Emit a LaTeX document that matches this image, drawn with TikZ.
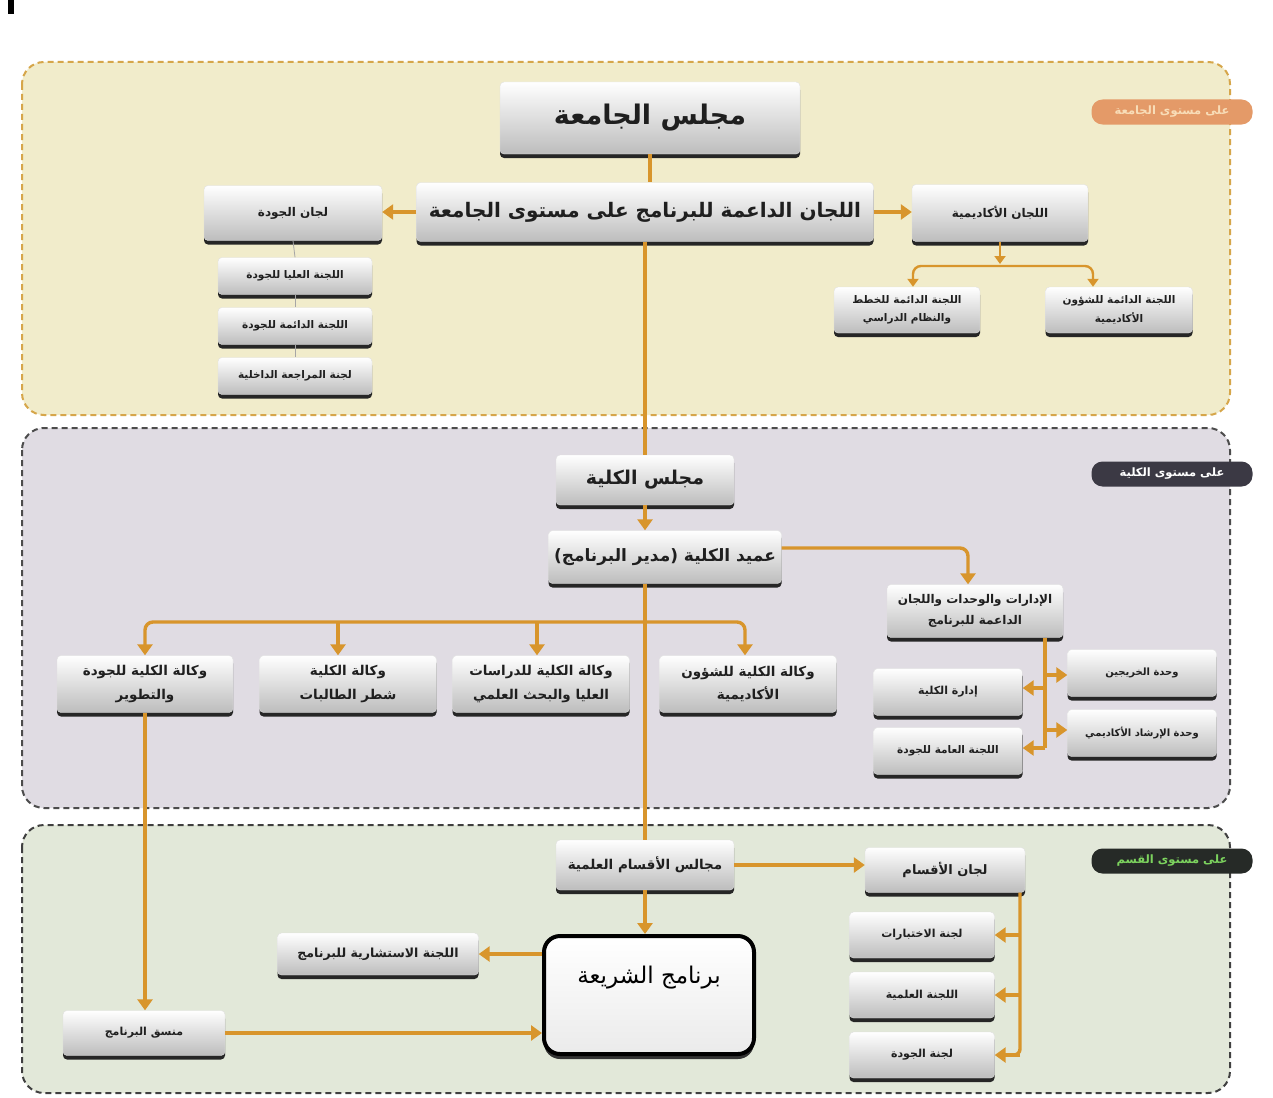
\documentclass[tikz,border=0pt]{standalone}
\usepackage{fontspec}
\usetikzlibrary{arrows.meta,shadows,calc}
\TeXXeTstate=1
\newfontfamily\arabicfont[Script=Arabic]{DejaVu Sans}
\newcommand{\R}[1]{\beginR #1\endR}
\newcommand{\fs}[1]{\fontsize{#1}{\fpeval{#1*1.75}}\selectfont}
\definecolor{orangeln}{HTML}{D8952C}
\definecolor{zoneA}{HTML}{F1ECCB}
\definecolor{zoneAline}{HTML}{D6A64A}
\definecolor{zoneB}{HTML}{E0DCE3}
\definecolor{zoneC}{HTML}{E2E8D9}
\definecolor{tagA}{HTML}{E49A68}
\definecolor{tagAtext}{HTML}{F8DDB8}
\definecolor{tagB}{HTML}{3B3944}
\definecolor{tagC}{HTML}{262A27}
\definecolor{tagCtext}{HTML}{7CD35E}
\tikzset{
  box/.style={rounded corners=4pt, top color=white, bottom color=black!26, draw=black!12,
    line width=0.4pt, align=center, text=black!88, inner sep=2pt,
    drop shadow={shadow xshift=0pt, shadow yshift=-4pt, opacity=1, fill=black!85}},
  fsz/.style={font=\arabicfont\bfseries\fs{#1}},
  ln/.style={draw=orangeln, line width=3.4pt},
  arr/.style={ln, -{Triangle[length=11pt,width=15pt]}},
  sarr/.style={draw=orangeln, line width=2.4pt, -{Triangle[length=8pt,width=11pt]}},
  thin/.style={draw=black!35, line width=0.8pt},
  zone/.style={rounded corners=22pt, line width=2pt, dash pattern=on 6pt off 4pt},
  tagbox/.style={rounded corners=11pt, minimum width=161pt, minimum height=25pt, inner sep=0pt, fsz=11.5},
}
\begin{document}
\begin{tikzpicture}[x=1pt,y=-1pt]
\useasboundingbox (0,0) rectangle (1273,1097);
\fill[white] (0,0) rectangle (1273,1097);
\fill[black] (8,0) rectangle (14,14);
% zones
\filldraw[zone, fill=zoneA, draw=zoneAline] (22,62) rectangle (1230,415);
\filldraw[zone, fill=zoneB, draw=black!70] (22,428) rectangle (1230,808);
\filldraw[zone, fill=zoneC, draw=black!75] (22,825) rectangle (1230,1093);
% tags
\node[tagbox, fill=tagA, text=tagAtext] (tag1) at (1172,112) {\R{على مستوى الجامعة}};
\node[tagbox, fill=tagB, text=white] (tag2) at (1172,474) {\R{على مستوى الكلية}};
\node[tagbox, fill=tagC, text=tagCtext] (tag3) at (1172,861) {\R{على مستوى القسم}};

% ---------- university level ----------
\node[box, fsz=27, minimum width=300pt, minimum height=72pt] (n1) at (650,118) {\R{مجلس الجامعة}};
\node[box, fsz=20, minimum width=457pt, minimum height=59pt] (n2) at (645,212) {\R{اللجان الداعمة للبرنامج على مستوى الجامعة}};
\node[box, fsz=12, minimum width=178pt, minimum height=55pt] (n3) at (293,213) {\R{لجان الجودة}};
\node[box, fsz=10.5, minimum width=154pt, minimum height=37pt] (n4) at (295,276) {\R{اللجنة العليا للجودة}};
\node[box, fsz=10.5, minimum width=154pt, minimum height=37pt] (n5) at (295,326) {\R{اللجنة الدائمة للجودة}};
\node[box, fsz=10.5, minimum width=154pt, minimum height=37pt] (n6) at (295,376) {\R{لجنة المراجعة الداخلية}};
\node[box, fsz=12, minimum width=176pt, minimum height=57pt] (n7) at (1000,213) {\R{اللجان الأكاديمية}};
\node[box, fsz=10.5, minimum width=146pt, minimum height=46pt] (n8) at (907,310) {\R{اللجنة الدائمة للخطط}\\\R{والنظام الدراسي}};
\node[box, fsz=10.5, minimum width=147pt, minimum height=46pt] (n9) at (1119,310) {\R{اللجنة الدائمة للشؤون}\\\R{الأكاديمية}};

% ---------- college level ----------
\node[box, fsz=19, minimum width=178pt, minimum height=50pt] (n10) at (645,480) {\R{مجلس الكلية}};
\node[box, fsz=17, minimum width=233pt, minimum height=53pt] (n11) at (665,557) {\R{عميد الكلية (مدير البرنامج)}};
\node[box, fsz=12, minimum width=176pt, minimum height=53pt] (n12) at (975,611) {\R{الإدارات والوحدات واللجان}\\\R{الداعمة للبرنامج}};
\node[box, fsz=13.5, minimum width=177pt, minimum height=57pt] (n13) at (748,684) {\R{وكالة الكلية للشؤون}\\\R{الأكاديمية}};
\node[box, fsz=13.5, minimum width=177pt, minimum height=57pt] (n14) at (541,684) {\R{وكالة الكلية للدراسات}\\\R{العليا والبحث العلمي}};
\node[box, fsz=13.5, minimum width=177pt, minimum height=57pt] (n15) at (348,684) {\R{وكالة الكلية}\\\R{شطر الطالبات}};
\node[box, fsz=13.5, minimum width=176pt, minimum height=57pt] (n16) at (145,684) {\R{وكالة الكلية للجودة}\\\R{والتطوير}};
\node[box, fsz=11, minimum width=149pt, minimum height=47pt] (n17) at (948,692) {\R{إدارة الكلية}};
\node[box, fsz=10.5, minimum width=149pt, minimum height=47pt] (n18) at (948,751) {\R{اللجنة العامة للجودة}};
\node[box, fsz=10, minimum width=149pt, minimum height=47pt] (n19) at (1142,673) {\R{وحدة الخريجين}};
\node[box, fsz=10, minimum width=149pt, minimum height=47pt] (n20) at (1142,733) {\R{وحدة الإرشاد الأكاديمي}};

% ---------- department level ----------
\node[box, fsz=13.5, minimum width=178pt, minimum height=50pt] (n21) at (645,865) {\R{مجالس الأقسام العلمية}};
\node[box, fsz=13, minimum width=160pt, minimum height=45pt] (n22) at (945,870) {\R{لجان الأقسام}};
\node[box, fsz=11, minimum width=145pt, minimum height=46pt] (n23) at (922,935) {\R{لجنة الاختبارات}};
\node[box, fsz=11, minimum width=145pt, minimum height=46pt] (n24) at (922,995) {\R{اللجنة العلمية}};
\node[box, fsz=11, minimum width=145pt, minimum height=46pt] (n25) at (922,1055) {\R{لجنة الجودة}};
\node[box, fsz=12.5, minimum width=201pt, minimum height=42pt] (n27) at (378,954) {\R{اللجنة الاستشارية للبرنامج}};
\node[box, fsz=11, minimum width=162pt, minimum height=45pt] (n28) at (144,1033) {\R{منسق البرنامج}};
\node[rounded corners=16pt, minimum width=210pt, minimum height=118pt, top color=white, bottom color=black!8,
  draw=black, line width=4pt, drop shadow={shadow xshift=0pt, shadow yshift=-5pt, opacity=1, fill=black!80}] (n26) at (649,995) {};
\node[font=\arabicfont\fs{23}, anchor=center] (n26t) at (649,978) {\R{برنامج الشريعة}};

% ---------- connectors ----------
\draw[ln] (n1.south) -- (n1.south |- n2.north);
\draw[arr] (n2.west) -- (n2.west -| n3.east);
\draw[arr] (n2.east) -- (n2.east -| n7.west);
\draw[thin] (n3.south) -- (n4.north);
\draw[thin] (n4.south) -- (n5.north);
\draw[thin] (n5.south) -- (n6.north);
\coordinate (ab) at (1000,266);
\draw[sarr] (n7.south) -- ([yshift=2pt]n7.south |- ab);
\draw[sarr, rounded corners=8pt] (n7.south |- ab) -- ($(n8.north |- ab)+(6,0)$) -- ($(n8.north)+(6,0)$);
\draw[sarr, rounded corners=8pt] (n7.south |- ab) -- ($(n9.north |- ab)+(-26,0)$) -- ($(n9.north)+(-26,0)$);
% trunk
\draw[ln] (n2.south) -- (n10.north);
\draw[arr] (n10.south) -- (n10.south |- n11.north);
\draw[ln] (n10.south |- n11.south) -- (n10.south |- n21.north);
% college bus
\coordinate (bus) at (645,622);
\draw[arr, rounded corners=8pt] (n10.south |- bus) -- (n16.north |- bus) -- (n16.north);
\draw[arr, rounded corners=8pt] (n10.south |- bus) -- ($(n13.north |- bus)+(-3,0)$) -- ($(n13.north)+(-3,0)$);
\draw[arr] ($(n15.north |- bus)+(-10,0)$) -- ($(n15.north)+(-10,0)$);
\draw[arr] ($(n14.north |- bus)+(-4,0)$) -- ($(n14.north)+(-4,0)$);
% dean to support units
\draw[arr, rounded corners=8pt] ([yshift=9pt]n11.east) -- ($(n12.north |- n11.east)+(-7,-9)$) -- ($(n12.north)+(-7,0)$);
\coordinate (v) at (1045,0);
\draw[ln] (v |- n12.south) -- (1045,748);
\draw[arr] (1045,675) -- (n19.west |- 0,675);
\draw[arr] (1045,688) -- (n17.east |- 0,688);
\draw[arr] (1045,730) -- (n20.west |- 0,730);
\draw[arr] (1045,748) -- (n18.east |- 0,748);
% department level
\draw[arr] (n21.east) -- (n21.east -| n22.west);
\coordinate (w) at (1020,0);
\draw[ln, rounded corners=6pt] (w |- n22.south) -- (w |- n25.east) -- ([xshift=12pt]n25.east);
\draw[arr] (w |- n25.east) -- (n25.east);
\draw[arr] (w |- n23.east) -- (n23.east);
\draw[arr] (w |- n24.east) -- (n24.east);
\draw[arr] (n21.south) -- (n21.south |- n26.north);
\draw[arr] (n26.west |- n27.east) -- (n27.east);
\draw[arr] (n28.east) -- (n28.east -| n26.west);
\draw[arr] (n16.south) -- (n16.south |- n28.north);
\end{tikzpicture}
\end{document}
